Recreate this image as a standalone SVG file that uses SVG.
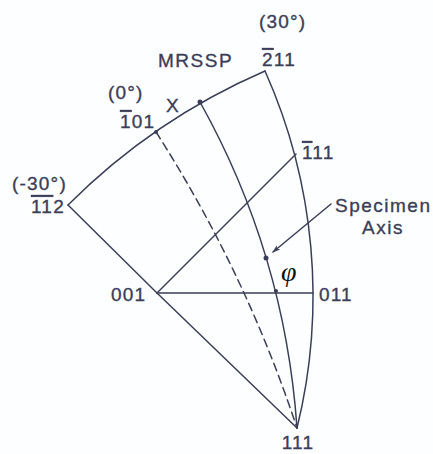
<svg xmlns="http://www.w3.org/2000/svg" width="433" height="454" viewBox="0 0 433 454">
<style>
.ln{fill:none;stroke:#3b3e57;stroke-width:1.5;stroke-linecap:round;stroke-linejoin:round}
.dash{stroke-dasharray:8 5}
.lbl{font-family:"Liberation Sans",Arial,sans-serif;font-size:19px;fill:#3b3e57;stroke:#3b3e57;stroke-width:0.35px;letter-spacing:1.2px}
.wd{letter-spacing:1.5px}
.dot{fill:#3b3e57}
.phi{font-family:"Liberation Serif","Times New Roman",serif;font-style:italic;font-size:28px;fill:#111}
</style>
<defs>
<marker id="ah" viewBox="0 0 10 10" refX="9" refY="5" markerWidth="8" markerHeight="8" orient="auto" markerUnits="userSpaceOnUse">
<path d="M0,1.5 L10,5 L0,8.5 L2.5,5 Z" fill="#3b3e57"/>
</marker>
</defs>
<rect width="433" height="454" fill="#fdfeff"/>
<g id="connectors">
<polyline class="ln" points="68,205 157,293 297,428"/>
<path class="ln" d="M68,205 Q154,119 265,71"/>
<path class="ln" d="M265,71 A551.6,551.6 0 0 1 297,428"/>
<line class="ln" x1="157" y1="293" x2="296" y2="154"/>
<line class="ln" x1="157" y1="293" x2="313" y2="293"/>
<path class="ln" d="M200,102 A780,780 0 0 1 297,428"/>
<path class="ln dash" d="M156,132 A1304,1304 0 0 1 297,428"/>
<line class="ln" x1="331" y1="204" x2="273" y2="252" marker-end="url(#ah)"/>
</g>
<g id="node-111">
<text class="lbl" x="298" y="449" text-anchor="middle">111</text>
</g>
<g id="node-001">
<text class="lbl" x="111" y="301">001</text>
</g>
<g id="node-011">
<text class="lbl" x="319" y="301">011</text>
</g>
<g id="node-m111">
<text class="lbl" x="302" y="159"><tspan text-decoration="overline">1</tspan>11</text>
</g>
<g id="node-m211">
<text class="lbl" x="259" y="28">(30°)</text>
<text class="lbl" x="262" y="66"><tspan text-decoration="overline">2</tspan>11</text>
</g>
<g id="node-m101">
<text class="lbl" x="108" y="99">(0°)</text>
<text class="lbl" x="120" y="128"><tspan text-decoration="overline">1</tspan>01</text>
<circle class="dot" cx="156" cy="132" r="2"/>
</g>
<g id="node-m1m12">
<text class="lbl" x="12" y="190">(-30°)</text>
<text class="lbl" x="31" y="213"><tspan text-decoration="overline">1</tspan><tspan text-decoration="overline">1</tspan>2</text>
</g>
<g id="node-X">
<text class="lbl" x="166" y="112">X</text>
<circle class="dot" cx="200" cy="102" r="2.5"/>
</g>
<g id="node-MRSSP">
<text class="lbl wd" x="158" y="67">MRSSP</text>
</g>
<g id="node-specimen-axis">
<text class="lbl wd" x="335" y="212">Specimen</text>
<text class="lbl wd" x="362" y="234">Axis</text>
<circle class="dot" cx="266" cy="258" r="2.5"/>
</g>
<g id="node-phi">
<text class="phi" x="281" y="281">φ</text>
<circle class="dot" cx="276" cy="291" r="2"/>
</g>
</svg>
